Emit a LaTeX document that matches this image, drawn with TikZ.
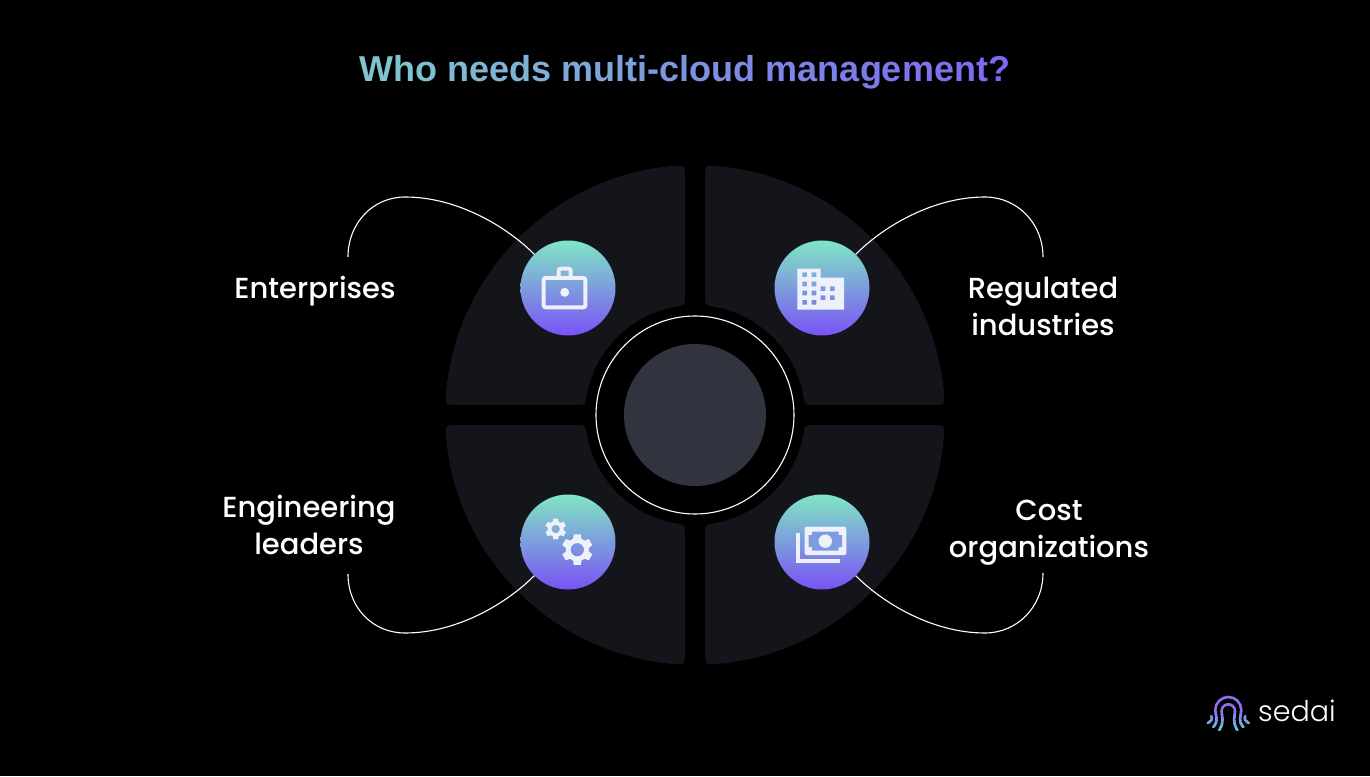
\documentclass[tikz,border=0pt]{standalone}
\usepackage{fontspec}
\setmainfont{Poppins Medium}
\newfontfamily\titlefont{Liberation Sans}
\newfontfamily\logofont{Poppins Light}
\usepackage{xcolor}
\usetikzlibrary{calc}
\definecolor{wheelgray}{HTML}{13151B}
\definecolor{hubgray}{HTML}{31343F}
\definecolor{titlestart}{HTML}{80C8CC}
\definecolor{titleend}{HTML}{7B68F2}
\definecolor{icontop}{HTML}{7FE6C4}
\definecolor{iconmid}{HTML}{80A8DC}
\definecolor{iconbot}{HTML}{7A52F6}
\definecolor{iconwhite}{HTML}{EEF0FA}
\definecolor{logopurple}{HTML}{8F6CF0}
\definecolor{logoteal}{HTML}{62D8DA}
\tikzset{sector/.style={fill=wheelgray}}
\tikzset{wire/.style={draw=white,line width=1.1pt}}
\tikzset{iconball/.style={circle,minimum size=95pt,inner sep=0pt,top color=icontop,middle color=iconmid,bottom color=iconbot}}
\tikzset{iconfill/.style={fill=iconwhite}}
\tikzset{iconline/.style={draw=iconwhite,line width=4pt}}
\tikzset{label/.style={text=white,align=center,font=\fontsize{29}{37}\selectfont}}
\newcommand{\gearwheel}[3]{%
  \fill[iconfill,even odd rule,shift={#1}] (-10:0.74*#2)
    \foreach \a in {30,90,...,330} {-- (\a-21:0.74*#2) -- (\a-13:#2) -- (\a+13:#2) -- (\a+21:0.74*#2)} -- cycle
    (0,0) circle (#3);}
\begin{document}
\begin{tikzpicture}[x=1pt,y=1pt]
  \fill[black] (-695,-361) rectangle (675,415);
  \useasboundingbox (-695,-361) rectangle (675,415);
  % Title
  \node (title) at (-10,343) {\titlefont\bfseries\fontsize{36}{42}\selectfont
    \foreach \ch [count=\i] in {W,h,o,\ ,n,e,e,d,s,\ ,m,u,l,t,i,-,c,l,o,u,d,\ ,m,a,n,a,g,e,m,e,n,t,?}{%
      \pgfmathtruncatemacro\pct{100*\i/33}\textcolor{titleend!\pct!titlestart}{\ch}}};
  % Wheel
  \foreach \a in {0,90,180,270}
    \fill[sector,rotate=\a] (10,119.5) -- (10,236.8) .. controls (10,249.8) .. (23.1,248.9)
      arc[start angle=84.7,end angle=5.3,radius=250] .. controls (249.8,10) .. (236.8,10)
      -- (119.5,10) .. controls (109.5,10) .. (108.2,19.9)
      arc[start angle=10.4,end angle=79.6,radius=110] .. controls (10,109.5) .. cycle;
  \node[circle,fill=hubgray,minimum size=142pt,inner sep=0pt] (hub) at (0,0) {};
  \node[circle,draw=white,line width=1.1pt,minimum size=198pt,inner sep=0pt] (ring) at (0,0) {};
  % Icon circles
  \node[iconball] (brief) at (-127,127) {};
  \node[iconball] (building) at (127,127) {};
  \node[iconball] (gears) at (-127,-127) {};
  \node[iconball] (money) at (127,-127) {};
  % Lines
  \coordinate (wirebrief) at (-347,158);
  \coordinate (peakbrief) at (-290,218);
  \coordinate (wirebuilding) at (348,158);
  \coordinate (peakbuilding) at (290,218);
  \coordinate (wiregears) at (-347,-159);
  \coordinate (peakgears) at (-290,-218);
  \coordinate (wiremoney) at (348,-158);
  \coordinate (peakmoney) at (290,-218);
  \draw[wire] (wirebrief) .. controls +(0,34) and +(-32,0) .. (peakbrief) .. controls +(52,0) and +(-28,28) .. (brief.135);
  \draw[wire] (wirebuilding) .. controls +(0,34) and +(32,0) .. (peakbuilding) .. controls +(-52,0) and +(28,28) .. (building.45);
  \draw[wire] (wiregears) .. controls +(0,-34) and +(-32,0) .. (peakgears) .. controls +(52,0) and +(-28,-28) .. (gears.225);
  \draw[wire] (wiremoney) .. controls +(0,-34) and +(32,0) .. (peakmoney) .. controls +(-52,0) and +(28,-28) .. (money.315);
  % Labels
  \node[label] (enterprises) at (-380,124) {Enterprises};
  \node[label] (regulated) at (348,108.5) {Regulated\\industries};
  \node[label] (engineering) at (-386,-110) {Engineering\\leaders};
  \node[label] (cost) at (354,-118) {Cost\\organizations};
  % Briefcase
  \begin{scope}[shift={(brief.center)}]
    \draw[iconline,rounded corners=2pt] (-24.3,10) rectangle (17.3,-19.3);
    \draw[iconline,rounded corners=2pt] (-9.3,10) -- (-9.3,19.3) -- (2.7,19.3) -- (2.7,10);
    \fill[iconfill] (-3.3,-4.3) circle (4.5);
  \end{scope}
  % Building
  \begin{scope}[shift={(building.center)}]
    \fill[iconfill,even odd rule] (-24.7,19.3) -- (-1.3,19.3) -- (-1.3,10.3) -- (22,10.3) -- (22,-21.7) -- (-24.7,-21.7) -- cycle
      \foreach \x in {-17.3,-8} {\foreach \y in {13.3,4,-5,-14.3} {(\x-2.4,\y-2.4) rectangle (\x+2.4,\y+2.4)}}
      \foreach \x in {1,10.3} {\foreach \y in {-0.7,-9.7} {(\x-2.4,\y-2.4) rectangle (\x+2.4,\y+2.4)}};
  \end{scope}
  % Gears
  \begin{scope}[shift={(gears.center)}]
    \gearwheel{(-12.3,13)}{10.7}{4.3}
    \gearwheel{(9.3,-7.7)}{15.7}{6.7}
  \end{scope}
  % Banknote
  \begin{scope}[shift={(money.center)}]
    \fill[iconfill,rounded corners=2pt] (-17.3,15.3) rectangle (24.3,-13);
    \fill[iconmid!85!iconbot] (-9.8,10.3) -- (16.5,10.3) -- (16.5,6.8) -- (20,6.8) -- (20,-5.2) -- (16.5,-5.2) -- (16.5,-8.7)
      -- (-9.8,-8.7) -- (-9.8,-5.2) -- (-13.3,-5.2) -- (-13.3,6.8) -- (-9.8,6.8) -- cycle;
    \fill[iconfill] (3.3,0.8) circle (6.7);
    \draw[draw=iconwhite,line width=4.2pt] (-24.2,8.7) -- (-24.2,-18.6) -- (17.7,-18.6);
  \end{scope}
  % Logo
  \begin{scope}[shift={(533.3,-296)},line width=2.6pt,line cap=round]
    \foreach \t in {0,...,8} {
      \pgfmathsetmacro\ytop{3-\t*3}
      \pgfmathsetmacro\ybot{\ytop-3}
      \pgfmathtruncatemacro\pct{100-\t*12}
      \begin{scope}
        \ifnum\t=0 \clip (-30,30) rectangle (30,\ybot); \else \clip (-30,\ytop) rectangle (30,\ybot); \fi
        \draw[logopurple!\pct!logoteal] (-15,-16) .. controls (-9,-9) and (-13,-5) .. (-13,1) arc[start angle=180,end angle=0,radius=13]
          .. controls (13,-5) and (9,-9) .. (15,-16);
        \draw[logopurple!\pct!logoteal] (-9,-19) .. controls (-3.5,-10) and (-6.7,-6) .. (-6.7,0) arc[start angle=180,end angle=0,radius=6.7]
          .. controls (6.7,-6) and (3.5,-10) .. (9,-19);
        \draw[logopurple!\pct!logoteal] (-20.5,-12) .. controls (-17,-10) and (-15.5,-8) .. (-17,-5);
        \draw[logopurple!\pct!logoteal] (20.5,-12) .. controls (17,-10) and (15.5,-8) .. (17,-5);
      \end{scope}
    }
  \end{scope}
  \node[text=white,font=\logofont\fontsize{28.6}{34}\selectfont,anchor=west,inner sep=0pt] (sedai) at (563,-296) {sedai};
\end{tikzpicture}
\end{document}
